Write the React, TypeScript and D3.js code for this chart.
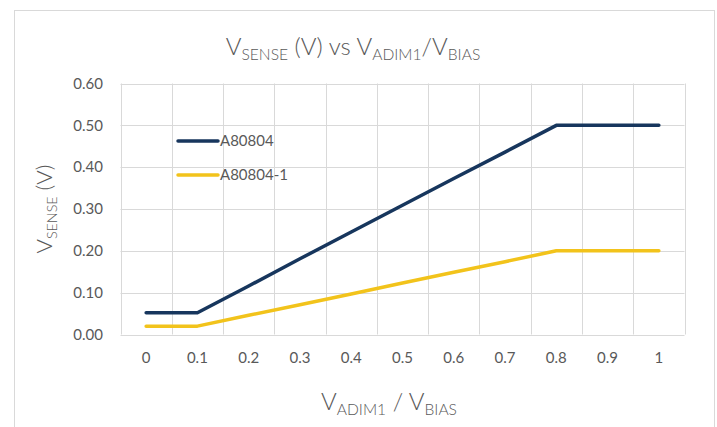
import { useRef, useEffect } from 'react';
import * as d3 from 'd3';

// Category labels along the x axis (VADIM1 / VBIAS)
const categories = ['0', '0.1', '0.2', '0.3', '0.4', '0.5', '0.6', '0.7', '0.8', '0.9', '1'];
// VSENSE (V) per category
const a80804 = [0.052, 0.052, 0.116, 0.181, 0.245, 0.309, 0.373, 0.436, 0.5, 0.5, 0.5];
const a80804_1 = [0.02, 0.02, 0.046, 0.071, 0.097, 0.123, 0.149, 0.174, 0.2, 0.2, 0.2];
const yTicks = [0, 0.1, 0.2, 0.3, 0.4, 0.5, 0.6];

const seriesNames = ['A80804', 'A80804-1'];
const seriesColors = ['#17365D', '#F2C31B'];

const W = 717;
const H = 427;
const FONT = 'Lato, "Open Sans", sans-serif';
const TEXT = '#595959';

export default function App() {
  const svgRef = useRef<SVGSVGElement>(null);

  useEffect(() => {
    const svg = d3.select(svgRef.current);
    svg.selectAll('*').remove();

    const plot = { left: 120.5, right: 684.5, top: 83.5, bottom: 334.5 };

    svg.append('rect').attr('width', W).attr('height', H).attr('fill', '#fff');
    // chart-area border
    svg.append('rect')
      .attr('x', 14.5).attr('y', 10.5)
      .attr('width', 700).attr('height', 430)
      .attr('fill', 'none').attr('stroke', '#D9D9D9').attr('stroke-width', 1);

    const x = d3.scaleBand<string>()
      .domain(categories)
      .range([plot.left, plot.right]);
    const y = d3.scaleLinear().domain([0, 0.6]).range([plot.bottom, plot.top]);

    // horizontal gridlines
    svg.append('g').selectAll('line').data(yTicks).join('line')
      .attr('x1', plot.left).attr('x2', plot.right)
      .attr('y1', (d) => Math.round(y(d)) + 0.5).attr('y2', (d) => Math.round(y(d)) + 0.5)
      .attr('stroke', '#D9D9D9').attr('stroke-width', 1);

    // vertical gridlines at category boundaries
    const bounds = categories.map((c) => x(c)!).concat([plot.right]);
    svg.append('g').selectAll('line').data(bounds).join('line')
      .attr('x1', (d) => Math.round(d) + 0.5).attr('x2', (d) => Math.round(d) + 0.5)
      .attr('y1', plot.top).attr('y2', plot.bottom)
      .attr('stroke', '#D9D9D9').attr('stroke-width', 1);

    // y tick labels
    svg.append('g').selectAll('text').data(yTicks).join('text')
      .attr('x', 103).attr('y', (d) => y(d))
      .attr('dy', '0.35em')
      .attr('text-anchor', 'end')
      .attr('font-family', FONT).attr('font-size', 15).attr('fill', TEXT)
      .text((d) => d.toFixed(2));

    // x tick labels
    svg.append('g').selectAll('text').data(categories).join('text')
      .attr('x', (d) => x(d)! + x.bandwidth() / 2).attr('y', 358)
      .attr('dy', '0.35em')
      .attr('text-anchor', 'middle')
      .attr('font-family', FONT).attr('font-size', 15).attr('fill', TEXT)
      .text((d) => d);

    // series lines
    const line = d3.line<number>()
      .x((_, i) => x(categories[i])! + x.bandwidth() / 2)
      .y((v) => y(v));
    [a80804, a80804_1].forEach((vals, i) => {
      svg.append('path')
        .datum(vals)
        .attr('d', line)
        .attr('fill', 'none')
        .attr('stroke', seriesColors[i])
        .attr('stroke-width', 3.5)
        .attr('stroke-linecap', 'round')
        .attr('stroke-linejoin', 'round');
    });

    // legend
    const legY = [141, 175];
    seriesNames.forEach((name, i) => {
      svg.append('line')
        .attr('x1', 178).attr('x2', 218)
        .attr('y1', legY[i]).attr('y2', legY[i])
        .attr('stroke', seriesColors[i]).attr('stroke-width', 3.5)
        .attr('stroke-linecap', 'round');
      svg.append('text')
        .attr('x', 220).attr('y', legY[i]).attr('dy', '0.35em')
        .attr('font-family', FONT).attr('font-size', 15).attr('fill', TEXT)
        .text(name);
    });

    // title
    const title = svg.append('text')
      .attr('x', 353).attr('y', 55)
      .attr('text-anchor', 'middle')
      .attr('font-family', FONT).attr('font-weight', 300)
      .attr('font-size', 24).attr('fill', TEXT);
    const sub = (t: d3.Selection<SVGTextElement, unknown, null, undefined>, parts: [string, boolean][], size: number) => {
      let low = false;
      parts.forEach(([s, isSub]) => {
        const dy = isSub && !low ? size * 0.22 : !isSub && low ? -size * 0.22 : 0;
        low = isSub;
        t.append('tspan')
          .attr('dy', dy)
          .attr('font-size', isSub ? size * 0.65 : size)
          .text(s);
      });
    };
    sub(title, [['V', false], ['SENSE', true], [' (V) vs V', false], ['ADIM1', true], ['/V', false], ['BIAS', true]], 24);

    // x axis title
    const xt = svg.append('text')
      .attr('x', 389).attr('y', 410)
      .attr('text-anchor', 'middle')
      .attr('font-family', FONT).attr('font-weight', 300)
      .attr('font-size', 24).attr('fill', TEXT);
    sub(xt, [['V', false], ['ADIM1', true], [' / V', false], ['BIAS', true]], 24);

    // y axis title
    const yt = svg.append('text')
      .attr('transform', 'translate(52,209) rotate(-90)')
      .attr('text-anchor', 'middle')
      .attr('font-family', FONT).attr('font-weight', 300)
      .attr('font-size', 22).attr('fill', TEXT);
    sub(yt, [['V', false], ['SENSE', true], [' (V)', false]], 22);
  }, []);

  return (
    <svg
      ref={svgRef}
      width={W}
      height={H}
      style={{ position: 'absolute', left: 0, top: 0, display: 'block' }}
    />
  );
}
